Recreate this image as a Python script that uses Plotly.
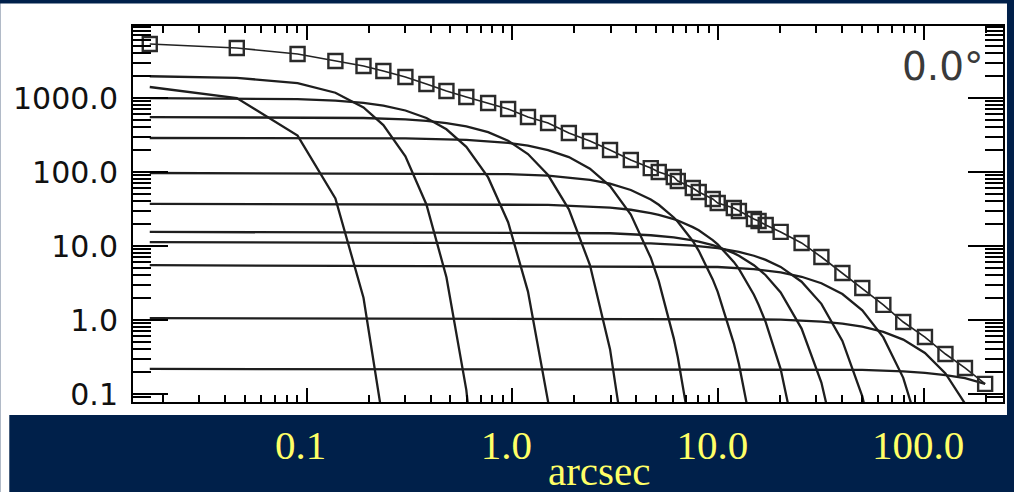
import plotly.graph_objects as go

# ---------------- data ----------------
# radii of the measured profile points (arcsec) and the measured surface brightness
radii = [0.0173, 0.0458, 0.0904, 0.138, 0.189, 0.236, 0.302, 0.382, 0.478, 0.597,
         0.762, 0.953, 1.19, 1.49, 1.88, 2.38, 2.98, 3.76, 4.70, 5.14,
         6.08, 6.36, 7.52, 8.04, 9.40, 9.94, 11.9, 12.6, 14.9, 15.7,
         17.0, 20.1, 25.4, 31.7, 40.1, 50.1, 63.4, 79.2, 101, 127,
         158, 198]
total = [5370, 4740, 3935, 3162, 2707, 2317, 1923, 1546, 1244, 1031,
         856, 710, 553, 459, 336, 262, 198, 145, 113, 100,
         85.6, 75.6, 60.8, 53.7, 43.2, 38.1, 32.6, 29.7, 23.2, 21.8,
         19.2, 15.5, 11.0, 7.10, 4.32, 2.71, 1.60, 0.94, 0.589, 0.347,
         0.225, 0.137]

# individual components
g1_r = [0.0173, 0.0458, 0.0904, 0.138, 0.189, 0.236]
g1_v = [1408, 1000, 310, 44, 2.0, 0.04]

g2_r = [0.0173, 0.0458, 0.0904, 0.138, 0.189, 0.236, 0.302, 0.382, 0.478, 0.597, 0.762]
g2_v = [1968, 1873, 1586, 1178, 746, 431, 163, 36.4, 3.79, 0.114, 0.0002]

g3_r = [0.0173, 0.0458, 0.0904, 0.138, 0.189, 0.236, 0.302, 0.382, 0.478, 0.597,
        0.762, 0.953, 1.19, 1.49, 1.88]
g3_v = [999, 991, 966, 922, 859, 789, 678, 538, 378, 219,
        84.5, 21.0, 2.42, 0.079, 0.0003]

g4_r = [0.0173, 0.0904, 0.189, 0.302, 0.382, 0.478, 0.597, 0.762, 0.953, 1.19,
        1.49, 1.88, 2.38, 2.98, 3.76]
g4_v = [553, 549, 537, 513, 491, 459, 414, 345, 264, 175,
        91, 31.3, 5.53, 0.404, 0.0056]

g5_r = [0.0173, 0.302, 0.597, 0.953, 1.19, 1.49, 1.88, 2.38, 2.98, 3.76,
        4.70, 5.14, 6.08, 6.36, 7.52]
g5_v = [288, 284, 271, 247, 227, 198, 159, 111, 64.4, 26.6,
        6.94, 3.35, 0.565, 0.314, 0.0208]

g6_r = [0.0173, 0.953, 1.49, 2.38, 2.98, 3.76, 4.70, 5.14, 6.08, 6.36,
        7.52, 8.04, 9.40, 9.94, 11.9, 12.6, 14.9]
g6_v = [97, 93.8, 89.3, 78.5, 69.6, 57.1, 42.4, 36.1, 24.3, 21.3,
        11.7, 8.61, 3.54, 2.40, 0.484, 0.254, 0.0238]

g7_r = [0.0173, 1.49, 2.98, 3.76, 4.70, 5.14, 6.08, 6.36, 7.52, 8.04,
        9.40, 9.94, 11.9, 12.6, 14.9, 15.7, 17.0, 20.1, 25.4]
g7_v = [37, 36.0, 33.0, 30.9, 27.9, 26.4, 23.1, 22.1, 18.0, 16.3,
        12.0, 10.5, 6.1, 4.9, 2.20, 1.61, 0.936, 0.217, 0.0101]

g8_r = [0.0173, 2.98, 4.70, 6.08, 7.52, 8.04, 9.40, 9.94, 11.9, 12.6,
        14.9, 15.7, 17.0, 20.1, 25.4, 31.7, 40.1]
g8_v = [15.5, 14.87, 13.98, 13.05, 11.9, 11.47, 10.27, 9.78, 8.01, 7.39,
        5.51, 4.91, 4.03, 2.36, 0.766, 0.143, 0.0086]

g9_r = [0.0173, 4.70, 7.52, 9.94, 12.6, 14.9, 17.0, 20.1, 25.4, 31.7, 40.1, 50.1, 63.4]
g9_v = [11.3, 10.83, 10.14, 9.35, 8.34, 7.39, 6.50, 5.22, 3.29, 1.654, 0.522, 0.093, 0.0052]

g10_r = [0.0173, 9.94, 14.9, 20.1, 25.4, 31.7, 40.1, 50.1, 63.4, 79.2, 101]
g10_v = [5.5, 5.20, 4.86, 4.39, 3.84, 3.14, 2.24, 1.354, 0.582, 0.1654, 0.0184]

g11_r = [0.0173, 20.1, 31.7, 40.1, 50.1, 63.4, 79.2, 101, 127, 158, 198]
g11_v = [1.06, 1.015, 0.952, 0.893, 0.812, 0.691, 0.544, 0.358, 0.190, 0.0744, 0.0163]

g12_r = [0.0173, 50.1, 79.2, 101, 127, 158, 198]
g12_v = [0.218, 0.2117, 0.2025, 0.1933, 0.1802, 0.1636, 0.1375]

angle_label = "0.0°"
x_title = "arcsec"

components = [(g1_r, g1_v), (g2_r, g2_v), (g3_r, g3_v), (g4_r, g4_v),
              (g5_r, g5_v), (g6_r, g6_v), (g7_r, g7_v), (g8_r, g8_v),
              (g9_r, g9_v), (g10_r, g10_v), (g11_r, g11_v), (g12_r, g12_v)]

# ---------------- layout geometry ----------------
W, H = 1014, 492
ML, MR, MT, MB = 133, 9, 26, 90
PW = W - ML - MR
PH = H - MT - MB
NAVY = "#00204a"
YELLOW = "#ffff66"


def fx(p):
    return (p - ML) / PW


def fy(p):
    return (H - MB - p) / PH


fig = go.Figure()
for r, v in components:
    fig.add_trace(go.Scatter(x=r, y=v, mode="lines",
                             line=dict(color="#1e1e1e", width=2.3),
                             hoverinfo="skip", showlegend=False))
fig.add_trace(go.Scatter(x=radii, y=total, mode="lines+markers",
                         line=dict(color="#222222", width=1.6),
                         marker=dict(symbol="square-open", size=14, color="#2a2a2a",
                                     line=dict(width=2.4, color="#2a2a2a")),
                         showlegend=False))

axis_common = dict(type="log", dtick=1, tickformat=".1f", showgrid=False, zeroline=False,
                   showline=True, linecolor="black", linewidth=2, mirror="allticks",
                   ticks="inside", tickcolor="black", tickwidth=2)

fig.update_xaxes(**axis_common, range=[-1.8434, 2.3834], ticklen=14,
                 tickfont=dict(family="Liberation Serif", size=41, color=YELLOW),
                 ticklabelstandoff=6, ticklabelshift=-6,
                 minor=dict(ticks="inside", ticklen=7, tickwidth=2, tickcolor="black",
                            dtick="D1", showgrid=False))
fig.update_yaxes(**axis_common, range=[-1.108, 3.973], ticklen=35,
                 tickfont=dict(family="DejaVu Sans", size=30, color="#111111"),
                 ticklabelstandoff=7,
                 minor=dict(ticks="inside", ticklen=18, tickwidth=1.5, tickcolor="black",
                            dtick="D1", showgrid=False))

fig.update_layout(
    width=W, height=H,
    margin=dict(l=ML, r=MR, t=MT, b=MB, pad=0),
    paper_bgcolor=NAVY, plot_bgcolor="white",
    showlegend=False,
    shapes=[
        dict(type="rect", xref="paper", yref="paper", layer="below",
             x0=fx(0), x1=fx(1009), y0=fy(415), y1=fy(3.5),
             fillcolor="white", line=dict(width=0)),
        dict(type="rect", xref="paper", yref="paper", layer="below",
             x0=fx(0), x1=fx(9), y0=fy(493), y1=fy(415),
             fillcolor="white", line=dict(width=0)),
    ],
    annotations=[
        dict(text=angle_label, xref="paper", yref="paper", x=fx(988), y=fy(66),
             xanchor="right", yanchor="middle", showarrow=False,
             font=dict(family="DejaVu Sans", size=39, color="#3a3a3a")),
        dict(text=x_title, xref="paper", yref="paper", x=fx(600), y=fy(492),
             xanchor="center", yanchor="bottom", yshift=-4, showarrow=False,
             font=dict(family="Liberation Serif", size=41, color=YELLOW)),
    ],
)

fig.write_html("out.html")
